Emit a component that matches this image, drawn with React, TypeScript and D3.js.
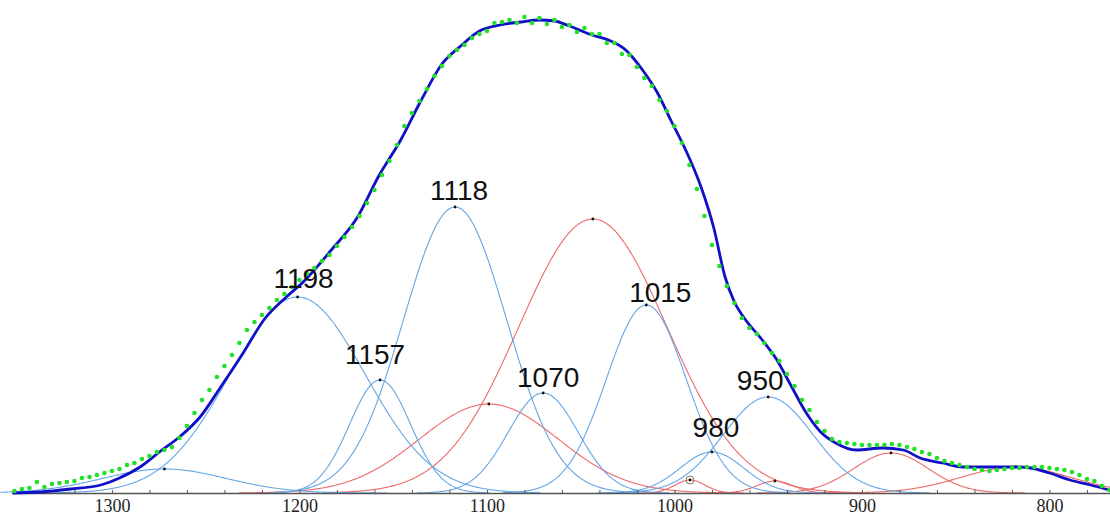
import * as d3 from "d3";
import { useEffect, useRef } from "react";

// measured spectrum (green dots), sampled every 4 cm-1 from 1352 down to 768
const measuredWavenumbers = d3.range(1352, 767, -4);
const measuredValues = [
    0.004, 0.008, 0.010, 0.022, 0.012, 0.018, 0.020, 0.022, 0.024, 0.030,
    0.032, 0.036, 0.040, 0.044, 0.048, 0.056, 0.060, 0.068, 0.074, 0.082,
    0.086, 0.092, 0.110, 0.134, 0.160, 0.186, 0.206, 0.232, 0.254, 0.276,
    0.300, 0.326, 0.342, 0.356, 0.370, 0.386, 0.398, 0.412, 0.426, 0.438,
    0.450, 0.464, 0.476, 0.494, 0.512, 0.532, 0.554, 0.580, 0.606, 0.636,
    0.664, 0.696, 0.734, 0.760, 0.784, 0.808, 0.834, 0.854, 0.874, 0.886,
    0.896, 0.910, 0.918, 0.924, 0.940, 0.942, 0.946, 0.940, 0.952, 0.940,
    0.950, 0.938, 0.946, 0.932, 0.936, 0.922, 0.930, 0.918, 0.918, 0.900,
    0.900, 0.878, 0.876, 0.852, 0.830, 0.814, 0.786, 0.764, 0.734, 0.700,
    0.656, 0.608, 0.554, 0.496, 0.454, 0.414, 0.380, 0.350, 0.330, 0.318,
    0.300, 0.280, 0.264, 0.238, 0.214, 0.186, 0.166, 0.142, 0.124, 0.108,
    0.102, 0.100, 0.098, 0.096, 0.096, 0.096, 0.096, 0.098, 0.096, 0.092,
    0.088, 0.082, 0.078, 0.070, 0.064, 0.060, 0.056, 0.052, 0.048, 0.046,
    0.044, 0.046, 0.048, 0.050, 0.050, 0.052, 0.052, 0.052, 0.050, 0.048,
    0.046, 0.042, 0.036, 0.028, 0.024, 0.014, 0.006,
];

// fitted envelope (dark blue line)
const fitWavenumbers = [
    1353, 1338, 1322, 1306, 1296, 1285, 1274, 1264, 1253, 1242,
    1230, 1219, 1207, 1198, 1183, 1169, 1158, 1146, 1135, 1124,
    1114, 1104, 1093, 1082, 1072, 1064, 1056, 1044, 1034, 1026,
    1022, 1017, 1009, 1002, 994, 986, 979, 973, 968, 962,
    954, 946, 938, 930, 922, 914, 903, 889, 878, 869,
    857, 846, 832, 817, 810, 800, 789, 778, 768,
];
const fitValues = [
    0.000, 0.002, 0.008, 0.016, 0.030, 0.052, 0.084, 0.112, 0.152, 0.212,
    0.280, 0.346, 0.392, 0.422, 0.486, 0.552, 0.632, 0.706, 0.786, 0.858,
    0.894, 0.924, 0.936, 0.942, 0.946, 0.944, 0.934, 0.916, 0.904, 0.886,
    0.870, 0.846, 0.800, 0.746, 0.686, 0.614, 0.530, 0.432, 0.382, 0.346,
    0.310, 0.270, 0.216, 0.162, 0.122, 0.100, 0.086, 0.090, 0.086, 0.070,
    0.060, 0.052, 0.052, 0.052, 0.050, 0.040, 0.026, 0.016, 0.006,
];

// component bands: center (cm-1), height, width (sigma, cm-1)
const blueCenters = [1272, 1201, 1157, 1117, 1070, 1015, 980, 950];
const blueHeights = [0.048, 0.392, 0.226, 0.572, 0.200, 0.376, 0.082, 0.192];
const blueWidths = [33, 36, 16.3, 27.5, 18.7, 21.3, 17, 24];
const blueLabels = ["", "1198", "1157", "1118", "1070", "1015", "980", "950"];

const redCenters = [1099, 1043.5, 991.7, 946.4, 884.5, 818];
const redHeights = [0.178, 0.548, 0.026, 0.024, 0.080, 0.052];
const redWidths = [37, 39.5, 8, 9.6, 20, 29];

const xTicks = d3.range(1340, 760, -20);

// label offsets from the peak marker (px)
const labelOffsets: [number, number][] = [
    [0, 0], [6, -9], [-5, -16], [4, -7], [5, -6], [14, -3], [4, -15], [-8, -7],
];

export default function App() {
    const svgRef = useRef<SVGSVGElement | null>(null);

    useEffect(() => {
        if (!svgRef.current) return;
        const svg = d3.select(svgRef.current);
        svg.selectAll("*").remove();

        const width = 1110;
        const height = 515;

        const x = d3.scaleLinear().domain([1353.3, 767.7]).range([12, 1110]);
        const y = d3.scaleLinear().domain([0, 0.946]).range([493, 20]);

        svg.attr("width", width).attr("height", height);

        const band = (c: number, h: number, s: number) =>
            d3.range(c + 3.6 * s, c - 3.6 * s, -0.5).map((v) => ({
                v,
                a: h * Math.exp(-((v - c) ** 2) / (2 * s * s)),
            }));

        const line = d3.line<{ v: number; a: number }>()
            .x((d) => x(d.v))
            .y((d) => y(d.a));

        const comps = svg.append("g");
        redCenters.forEach((c, i) => {
            comps.append("path")
                .attr("d", line(band(c, redHeights[i], redWidths[i])))
                .attr("fill", "none")
                .attr("stroke", "#ec6a6a")
                .attr("stroke-width", 1.1);
        });
        blueCenters.forEach((c, i) => {
            comps.append("path")
                .attr("d", line(band(c, blueHeights[i], blueWidths[i])))
                .attr("fill", "none")
                .attr("stroke", "#64a6e6")
                .attr("stroke-width", 1.1);
        });

        // axis
        const axis = svg.append("g")
            .attr("transform", `translate(0,${y(0)})`)
            .call(d3.axisBottom(x)
                .tickValues(xTicks)
                .tickSize(-3)
                .tickSizeOuter(0)
                .tickPadding(6)
                .tickFormat((d) => (Number(d) % 100 === 0 ? String(d) : "")));
        axis.select(".domain").attr("stroke", "#555").attr("stroke-width", 1.5);
        axis.selectAll(".tick line").attr("stroke", "#555");
        axis.selectAll(".tick text")
            .attr("fill", "#222")
            .style("font-family", "'Liberation Serif', 'DejaVu Serif', serif")
            .style("font-size", "18px");

        // peak markers
        const peaks = [
            ...blueCenters.map((c, i) => ({ c, h: blueHeights[i] })),
            ...redCenters.map((c, i) => ({ c, h: redHeights[i] })),
        ];
        svg.append("g").selectAll("circle")
            .data(peaks)
            .enter()
            .append("circle")
            .attr("cx", (d) => x(d.c))
            .attr("cy", (d) => y(d.h))
            .attr("r", 1.4)
            .attr("fill", "#111");

        // highlighted marker on the small red band
        svg.append("circle")
            .attr("cx", x(redCenters[2]))
            .attr("cy", y(redHeights[2]))
            .attr("r", 4)
            .attr("fill", "none")
            .attr("stroke", "#777")
            .attr("stroke-width", 1);

        // fitted envelope
        const fit = fitWavenumbers.map((v, i) => ({ v, a: fitValues[i] }));
        svg.append("path")
            .datum(fit)
            .attr("d", line.curve(d3.curveMonotoneX))
            .attr("fill", "none")
            .attr("stroke", "#1010c8")
            .attr("stroke-width", 2.8);

        // measured points
        svg.append("g").selectAll("circle")
            .data(measuredWavenumbers.map((v, i) => ({ v, a: measuredValues[i] })))
            .enter()
            .append("circle")
            .attr("cx", (d) => x(d.v))
            .attr("cy", (d) => y(d.a))
            .attr("r", 2.3)
            .attr("fill", "#22e02a");

        // band labels
        svg.append("g").selectAll("text")
            .data(blueCenters.map((c, i) => ({ c, h: blueHeights[i], label: blueLabels[i], off: labelOffsets[i] }))
                .filter((d) => d.label !== ""))
            .enter()
            .append("text")
            .attr("x", (d) => x(d.c) + d.off[0])
            .attr("y", (d) => y(d.h) + d.off[1])
            .attr("text-anchor", "middle")
            .style("font-family", "'Liberation Sans', Arial, sans-serif")
            .style("font-size", "28px")
            .attr("fill", "#111")
            .text((d) => d.label);
    }, []);

    return (
        <svg ref={svgRef} style={{ position: "absolute", left: 0, top: 0, background: "#fff" }} />
    );
}
